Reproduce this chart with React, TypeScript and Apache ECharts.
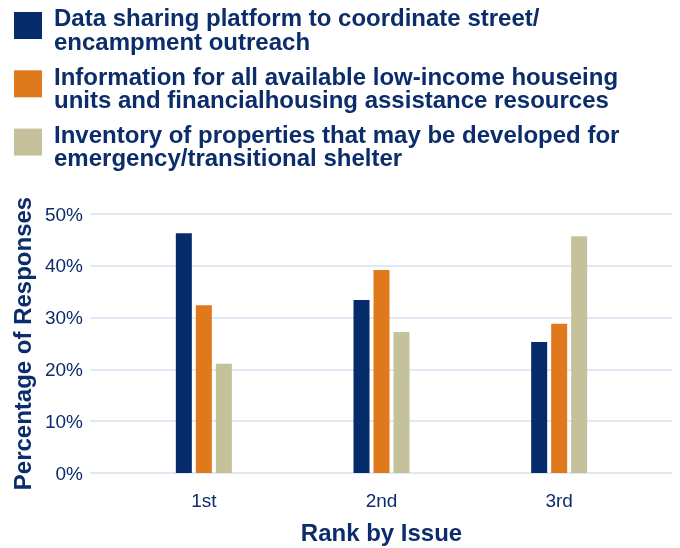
import React, { useEffect, useRef } from "react";
import * as echarts from "echarts";

const categories = ["1st", "2nd", "3rd"];
const seriesNames = [
  "Data sharing platform to coordinate street/\nencampment outreach",
  "Information for all available low-income houseing\nunits and financialhousing assistance resources",
  "Inventory of properties that may be developed for\nemergency/transitional shelter",
];
const dataSharing = [46.3, 33.4, 25.3];
const infoHousing = [32.4, 39.2, 28.8];
const inventory = [21.1, 27.2, 45.7];
const yTicks = { min: 0, max: 50, interval: 10 };

const colors = ["#062b6b", "#e0781c", "#c5c19b"];
const navyText = "#0c2d6b";
const gridColor = "#d6e2ef";
const FONT = "'Liberation Sans', Arial, Helvetica, sans-serif";

// legend layout
const LEG_X = 14;
const LEG_Y = 12;
const LEG_STEP = 58.3;
const LEG_W = 28;
const LEG_H = 27;
const LEG_TEXT_X = 54;
const LEG_TEXT_DY = 17.4;

export default function App() {
  const ref = useRef<HTMLDivElement>(null);
  useEffect(() => {
    if (!ref.current) return;
    const chart = echarts.init(ref.current, undefined, { renderer: "svg" });
    const values = [dataSharing, infoHousing, inventory];
    const legendGraphics = seriesNames.flatMap((name, i) => [
      {
        type: "rect",
        shape: { x: LEG_X, y: LEG_Y + i * LEG_STEP, width: LEG_W, height: LEG_H },
        style: { fill: colors[i] },
        silent: true,
      },
      {
        type: "text",
        x: LEG_TEXT_X,
        y: LEG_Y + i * LEG_STEP + LEG_TEXT_DY,
        silent: true,
        style: {
          text: name,
          fontFamily: FONT,
          fontSize: 24,
          fontWeight: "bold",
          fill: navyText,
          lineHeight: 23.3,
          align: "left",
          verticalAlign: "middle",
        },
      },
    ]);
    chart.setOption({
      animation: false,
      textStyle: { fontFamily: FONT },
      graphic: legendGraphics,
      grid: [
        { left: 90, right: 8, top: 214, bottom: 75, containLabel: false },
        { left: 115, right: 32, top: 214, bottom: 75, containLabel: false },
      ],
      xAxis: [
        {
          gridIndex: 0,
          type: "value",
          min: 0,
          max: 1,
          show: false,
          splitLine: { show: false },
        },
        {
          gridIndex: 1,
          type: "category",
          data: categories,
          axisLine: { show: false },
          axisTick: { show: false },
          axisLabel: {
            fontFamily: FONT,
            fontSize: 19,
            color: navyText,
            margin: 18,
          },
          name: "Rank by Issue",
          nameLocation: "middle",
          nameGap: 47,
          nameTextStyle: {
            fontFamily: FONT,
            fontSize: 24,
            fontWeight: "bold",
            color: navyText,
          },
        },
      ],
      yAxis: [
        {
          gridIndex: 0,
          type: "value",
          min: yTicks.min,
          max: yTicks.max,
          interval: yTicks.interval,
          axisLine: { show: false },
          axisTick: { show: false },
          axisLabel: {
            formatter: "{value}%",
            fontFamily: FONT,
            fontSize: 19,
            color: navyText,
            margin: 7,
          },
          splitLine: { lineStyle: { color: gridColor, width: 1.5 } },
          name: "Percentage of Responses",
          nameLocation: "middle",
          nameGap: 56,
          nameTextStyle: {
            fontFamily: FONT,
            fontSize: 24,
            fontWeight: "bold",
            color: navyText,
          },
        },
        {
          gridIndex: 1,
          type: "value",
          min: yTicks.min,
          max: yTicks.max,
          interval: yTicks.interval,
          show: false,
          splitLine: { show: false },
        },
      ],
      series: seriesNames.map((name, i) => ({
        name,
        type: "bar",
        xAxisIndex: 1,
        yAxisIndex: 1,
        data: values[i],
        barWidth: 16,
        barGap: "25%",
        itemStyle: { color: colors[i] },
      })),
    });
    return () => chart.dispose();
  }, []);
  return (
    <div
      ref={ref}
      style={{ position: "fixed", left: 0, top: 0, width: 680, height: 548 }}
    />
  );
}
